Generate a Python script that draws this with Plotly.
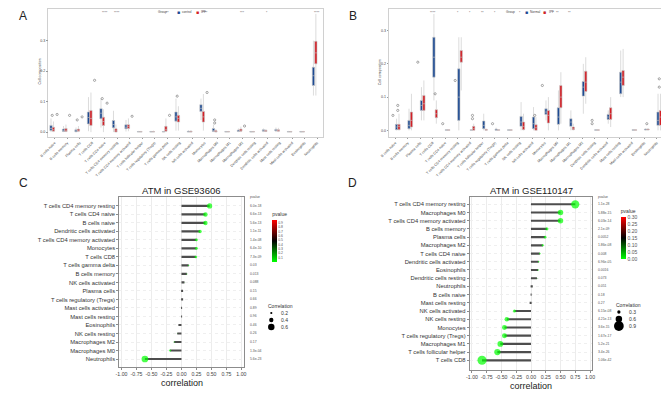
import plotly.graph_objects as go

# The page body has an 8px default margin, so the figure is placed at (8, 8).
OFF = 8
W, H = 669 - OFF, 394 - OFF
def px(x): return (x - OFF) / W
def py(y): return 1 - (y - OFF) / H

FONT = "Liberation Sans, Arial, sans-serif"
BLUE = "#1C4A93"
RED = "#D31F26"

# ---------------- Panels A / B : CIBERSORT fractions ----------------
cells = ["B cells naive", "B cells memory", "Plasma cells", "T cells CD8", "T cells CD4 naive",
         "T cells CD4 memory resting", "T cells CD4 memory activated", "T cells follicular helper",
         "T cells regulatory (Tregs)", "T cells gamma delta", "NK cells resting", "NK cells activated",
         "Monocytes", "Macrophages M0", "Macrophages M1", "Macrophages M2", "Dendritic cells resting",
         "Dendritic cells activated", "Mast cells resting", "Mast cells activated", "Eosinophils", "Neutrophils"]

# Panel A (GSE93606) control
A_ctrl_q1  = [.005, .002, .001, .027, .044, .014, .011, 0, 0, 0, .036, 0, .068, .002, 0, .002, 0, .003, .004, 0, 0, .153]
A_ctrl_med = [.012, .005, .003, .048, .062, .025, .016, .001, .001, .001, .050, .001, .078, .005, .001, .004, .001, .005, .006, .001, .001, .185]
A_ctrl_q3  = [.022, .010, .008, .066, .077, .038, .024, .002, .002, .002, .066, .003, .090, .012, .002, .007, .002, .008, .009, .002, .002, .213]
A_ctrl_lo  = [0, 0, 0, .003, .015, 0, .002, 0, 0, 0, .005, 0, .040, 0, 0, 0, 0, 0, 0, 0, 0, .120]
A_ctrl_hi  = [.045, .020, .015, .115, .110, .070, .040, .004, .004, .004, .110, .006, .110, .025, .004, .012, .004, .012, .015, .004, .004, .300]
# Panel A IPF
A_ipf_q1  = [.003, .002, .003, .022, .022, 0, .012, 0, 0, .003, .033, 0, .033, 0, 0, .003, 0, .002, .003, 0, 0, .224]
A_ipf_med = [.008, .006, .006, .045, .035, .004, .018, .001, .001, .008, .045, .001, .050, .002, .001, .006, .001, .004, .005, .001, .001, .260]
A_ipf_q3  = [.016, .012, .010, .071, .049, .011, .024, .002, .002, .019, .055, .003, .068, .005, .002, .010, .002, .006, .008, .002, .002, .298]
A_ipf_lo  = [0, 0, 0, 0, 0, 0, .003, 0, 0, 0, .005, 0, .005, 0, 0, 0, 0, 0, 0, 0, 0, .120]
A_ipf_hi  = [.035, .025, .020, .130, .075, .025, .045, .004, .005, .045, .085, .006, .125, .010, .004, .018, .004, .010, .014, .004, .004, .388]
A_ctrl_out_cells = ["B cells naive", "Plasma cells", "T cells CD4 naive", "NK cells resting", "Macrophages M0", "Macrophages M0"]
A_ctrl_out_vals  = [0.055, 0.040, 0.110, 0.118, 0.030, 0.040]
A_ipf_out_cells = ["B cells naive", "B cells memory", "Plasma cells", "T cells CD8", "T cells CD4 naive",
                   "T cells CD4 memory activated", "T cells gamma delta", "Monocytes", "Macrophages M2"]
A_ipf_out_vals  = [0.058, 0.055, 0.050, 0.170, 0.095, 0.052, 0.055, 0.130, 0.020]
A_sig_cells = ["T cells CD4 naive", "T cells CD4 memory resting", "T cells gamma delta", "Monocytes",
               "Macrophages M2", "Dendritic cells activated", "Neutrophils"]
A_sig_text = ["****", "****", "**", "****", "***", "*", "****"]

# Panel B (GSE110147) normal
B_ctrl_q1  = [.002, .005, .060, .160, 0, .030, 0, .005, 0, 0, .012, .005, .048, .018, .012, .103, 0, .033, .110, 0, .001, .015]
B_ctrl_med = [.010, .015, .075, .220, .001, .100, .001, .015, .002, .001, .025, .020, .055, .040, .025, .130, .001, .040, .145, .001, .002, .030]
B_ctrl_q3  = [.018, .030, .090, .280, .002, .185, .002, .028, .004, .002, .042, .040, .065, .068, .035, .147, .002, .048, .175, .002, .004, .055]
B_ctrl_lo  = [0, 0, .030, .090, 0, 0, 0, 0, 0, 0, 0, 0, .030, 0, 0, .050, 0, .020, .100, 0, 0, 0]
B_ctrl_hi  = [.035, .065, .130, .350, .004, .280, .004, .050, .008, .003, .085, .070, .090, .120, .060, .200, .004, .060, .240, .003, .006, .110]
# Panel B IPF
B_ipf_q1  = [.002, .010, .060, .038, 0, .205, 0, 0, 0, 0, .002, 0, .022, .068, .002, .117, 0, .033, .135, 0, .001, .015]
B_ipf_med = [.012, .030, .080, .050, .001, .220, .005, .001, .001, .001, .012, .008, .045, .100, .005, .145, .001, .050, .160, .001, .003, .040]
B_ipf_q3  = [.018, .055, .105, .062, .002, .240, .012, .003, .002, .002, .025, .017, .060, .135, .010, .178, .002, .068, .180, .002, .004, .060]
B_ipf_lo  = [0, 0, .030, .020, 0, .120, 0, 0, 0, 0, 0, 0, 0, .020, 0, .080, 0, .010, .100, 0, 0, 0]
B_ipf_hi  = [.050, .110, .150, .090, .003, .280, .020, .005, .004, .003, .050, .040, .100, .175, .020, .220, .004, .100, .245, .003, .006, .110]
B_ctrl_out_cells = ["B cells naive", "Plasma cells", "T cells CD4 naive", "T cells regulatory (Tregs)",
                    "Dendritic cells resting", "Dendritic cells resting", "Monocytes", "T cells CD4 memory resting"]
B_ctrl_out_vals  = [0.045, 0.205, 0.020, 0.020, 0.020, 0.030, 0.135, 0.150]
B_ipf_out_cells = ["B cells naive", "B cells naive", "T cells CD8", "T cells CD4 memory activated",
                   "T cells CD4 memory activated", "NK cells activated", "Eosinophils", "Neutrophils", "Neutrophils"]
B_ipf_out_vals  = [0.060, 0.075, 0.110, 0.035, 0.045, 0.045, 0.020, 0.130, 0.155]
B_sig_cells = ["T cells CD8", "T cells CD4 memory resting", "T cells CD4 memory activated",
               "T cells follicular helper", "T cells regulatory (Tregs)", "NK cells resting",
               "Monocytes", "Macrophages M0", "Macrophages M1"]
B_sig_text = ["****", "*", "*", "**", "*", "*", "*", "**", "**"]

yticks_ab = [0.0, 0.1, 0.2, 0.3]

# ---------------- Panels C / D : ATM correlation lollipops ----------------
C_cells = ["T cells CD4 memory resting", "T cells CD4 naive", "B cells naive", "Dendritic cells activated",
           "T cells CD4 memory activated", "Monocytes", "T cells CD8", "T cells gamma delta", "B cells memory",
           "NK cells activated", "Plasma cells", "T cells regulatory (Tregs)", "Mast cells activated",
           "Mast cells resting", "Eosinophils", "NK cells resting", "Macrophages M2", "Macrophages M0", "Neutrophils"]
C_cor = [0.47, 0.40, 0.40, 0.31, 0.25, 0.25, 0.24, 0.12, 0.09, 0.05, 0.02, 0.015, 0.005, 0.003,
         -0.05, -0.07, -0.12, -0.19, -0.61]
C_p = ["6.0e-18", "6.6e-13", "5.6e-13", "1.1e-11", "1.4e-08", "6.4e-10", "7.3e-09", "0.03", "0.013",
       "0.088", "0.15", "0.66", "0.89", "0.96", "0.46", "0.26", "0.17", "1.3e-04", "5.6e-23"]

D_cells = ["T cells CD4 memory resting", "Macrophages M0", "T cells CD4 memory activated", "B cells memory",
           "Plasma cells", "Macrophages M2", "T cells CD4 naive", "Dendritic cells activated", "Eosinophils",
           "Dendritic cells resting", "Neutrophils", "B cells naive", "Mast cells resting", "NK cells activated",
           "NK cells resting", "Monocytes", "T cells regulatory (Tregs)", "Macrophages M1",
           "T cells follicular helper", "T cells CD8"]
D_cor = [0.75, 0.50, 0.50, 0.27, 0.24, 0.20, 0.15, 0.13, 0.12, 0.10, 0.03, 0.01, -0.01,
         -0.28, -0.41, -0.45, -0.45, -0.52, -0.57, -0.83]
D_p = ["1.1e-28", "5.88e-15", "6.03e-14", "2.1e-09", "0.0052", "1.86e-08", "0.008", "6.96e-05", "0.0016",
       "0.073", "0.051", "0.18", "0.27", "6.15e-08", "4.21e-13", "3.6e-15", "1.67e-17", "5.2e-21",
       "3.4e-26", "1.06e-42"]

corr_ticks = [-1.0, -0.75, -0.5, -0.25, 0.0, 0.25, 0.5, 0.75, 1.0]
C_size_legend = [0.2, 0.4, 0.6]
D_size_legend = [0.3, 0.6, 0.9]
C_cbar_ticks = [0.1, 0.2, 0.3, 0.4, 0.5, 0.6, 0.7, 0.8, 0.9]
D_cbar_ticks = [0.0, 0.05, 0.10, 0.15, 0.20, 0.25, 0.30]

SIZE_K = 11.0  # marker diameter (px) per unit |correlation|

fig = go.Figure()


def add_boxes(xa, ya, q1, med, q3, lo, hi, name, color):
    fig.add_trace(go.Box(
        x=cells, q1=q1, median=med, q3=q3, lowerfence=lo, upperfence=hi, name=name,
        fillcolor=color, line=dict(color="#c4c4c4", width=0.6), marker=dict(color=color),
        whiskerwidth=0, boxpoints=False, xaxis=xa, yaxis=ya, showlegend=False))


def add_out(xa, ya, xs, ys):
    fig.add_trace(go.Scatter(
        x=xs, y=ys, mode="markers",
        marker=dict(size=2.2, color="rgba(0,0,0,0)", line=dict(color="#555", width=0.5)),
        xaxis=xa, yaxis=ya, showlegend=False, hoverinfo="skip"))


add_boxes("x", "y", A_ctrl_q1, A_ctrl_med, A_ctrl_q3, A_ctrl_lo, A_ctrl_hi, "control", BLUE)
add_boxes("x", "y", A_ipf_q1, A_ipf_med, A_ipf_q3, A_ipf_lo, A_ipf_hi, "IPF", RED)
add_out("x", "y", A_ctrl_out_cells, A_ctrl_out_vals)
add_out("x", "y", A_ipf_out_cells, A_ipf_out_vals)

add_boxes("x2", "y2", B_ctrl_q1, B_ctrl_med, B_ctrl_q3, B_ctrl_lo, B_ctrl_hi, "Normal", BLUE)
add_boxes("x2", "y2", B_ipf_q1, B_ipf_med, B_ipf_q3, B_ipf_lo, B_ipf_hi, "IPF", RED)
add_out("x2", "y2", B_ctrl_out_cells, B_ctrl_out_vals)
add_out("x2", "y2", B_ipf_out_cells, B_ipf_out_vals)


def add_lollipop(xa, ya, names, cor, pstr, cax):
    pv = [float(s) for s in pstr]
    fig.add_trace(go.Bar(x=cor, y=names, orientation="h", width=0.26,
                         marker=dict(color="#4d4d4d", line=dict(width=0)),
                         xaxis=xa, yaxis=ya, showlegend=False, hoverinfo="skip"))
    fig.add_trace(go.Scatter(x=cor, y=names, mode="markers",
                             marker=dict(size=[SIZE_K * abs(c) for c in cor], color=pv,
                                         coloraxis=cax, line=dict(width=0)),
                             xaxis=xa, yaxis=ya, showlegend=False))


add_lollipop("x3", "y3", C_cells, C_cor, C_p, "coloraxis")
add_lollipop("x4", "y4", D_cells, D_cor, D_p, "coloraxis2")

ab_x = dict(type="category", categoryarray=cells, tickangle=-45,
            tickfont=dict(size=3.6, color="#444"), showline=True, mirror=True, linecolor="#d0d0d0",
            linewidth=0.8, ticks="outside", ticklen=1.5, tickcolor="#999", showgrid=False)
ab_y = dict(tickvals=yticks_ab, ticktext=["%.1f" % v for v in yticks_ab],
            tickfont=dict(size=3.6, color="#444"), showline=True, mirror=True, linecolor="#d0d0d0",
            linewidth=0.8, ticks="outside", ticklen=1.5, tickcolor="#999", showgrid=False, zeroline=False)

cd_x = dict(range=[-1.04, 1.04], tickvals=corr_ticks, ticktext=["%.2f" % v for v in corr_ticks],
            tickfont=dict(size=5.2, color="#444"), showline=True, mirror=True, linecolor="#8c8c8c",
            linewidth=0.8, ticks="outside", ticklen=2, tickcolor="#8c8c8c", showgrid=True,
            gridcolor="#ececec", gridwidth=0.6, zeroline=False)
cd_y = dict(type="category", tickfont=dict(size=5.8, color="#333"), showline=True, mirror=True,
            linecolor="#8c8c8c", linewidth=0.8, ticks="outside", ticklen=2, tickcolor="#8c8c8c",
            showgrid=True, gridcolor="#efefef", gridwidth=0.6, griddash="dot")

cscale = [[0, "#00FF00"], [0.5, "#000000"], [1, "#FF0000"]]

fig.update_layout(
    width=W, height=H, margin=dict(l=0, r=0, t=0, b=0),
    paper_bgcolor="white", plot_bgcolor="white",
    font=dict(family=FONT, color="#222"),
    boxmode="group", boxgap=0.22, boxgroupgap=0.05,
    scattermode="group", scattergap=0.22,
    barmode="overlay",
    xaxis=dict(domain=[px(40), px(320)], anchor="y", **ab_x),
    yaxis=dict(domain=[py(137), py(9)], anchor="x", range=[-0.016, 0.404], **ab_y),
    xaxis2=dict(domain=[px(387), px(666)], anchor="y2", **ab_x),
    yaxis2=dict(domain=[py(137), py(9)], anchor="x2", range=[-0.02, 0.365], **ab_y),
    xaxis3=dict(domain=[px(112), px(239)], anchor="y3", **cd_x),
    yaxis3=dict(domain=[py(367), py(197)], anchor="x3", categoryarray=C_cells[::-1],
                range=[-0.94, len(C_cells) + 0.05], **cd_y),
    xaxis4=dict(domain=[px(469), px(594)], anchor="y4", **cd_x),
    yaxis4=dict(domain=[py(370), py(197)], anchor="x4", categoryarray=D_cells[::-1],
                range=[-1.18, len(D_cells) - 0.11], **cd_y),
    coloraxis=dict(colorscale=cscale, cmin=0, cmax=max(float(s) for s in C_p),
                   colorbar=dict(x=px(268), xanchor="left", y=py(209), yanchor="top",
                                 xpad=0, ypad=0, len=53, lenmode="pixels", thickness=5, outlinewidth=0,
                                 tickvals=C_cbar_ticks, tickfont=dict(size=3.4, color="#555"), ticks="",
                                 title=dict(text="pvalue", side="top", font=dict(size=5, color="#333")))),
    coloraxis2=dict(colorscale=cscale, cmin=0, cmax=0.3,
                    colorbar=dict(x=px(623), xanchor="left", y=py(206), yanchor="top",
                                  xpad=0, ypad=0, len=53, lenmode="pixels", thickness=5, outlinewidth=0,
                                  tickvals=D_cbar_ticks, ticktext=["%.2f" % v for v in D_cbar_ticks],
                                  tickfont=dict(size=5, color="#555"), ticks="",
                                  title=dict(text="pvalue", side="top", font=dict(size=5, color="#333")))),
)

ann = []
def txt(x, y, s, size, color="#222", xanchor="center", **kw):
    d = dict(x=x, y=y, xref="paper", yref="paper", text=s, showarrow=False,
             xanchor=xanchor, yanchor="middle",
             font=dict(size=size, color=color, family=FONT))
    d.update(kw)
    ann.append(d)

# panel letters (the top-left 8px strip lies outside the figure)
txt(px(8), py(16), "A", 12, xanchor="left")
txt(px(350), py(16), "B", 12)
txt(px(8), py(183), "C", 12, xanchor="left")
txt(px(350), py(183), "D", 12)

# y-axis titles A/B
txt(px(31), py(72), "Cell composition", 3.6, "#444", textangle=-90)
txt(px(378), py(72), "Cell composition", 3.6, "#444", textangle=-90)

# group legends
LEG_Y = 11.5
def group_legend(x0, second):
    txt(px(x0), py(LEG_Y), "Group", 3.2, "#444", xanchor="left")
    txt(px(x0 + 19), py(LEG_Y), "■", 5, BLUE, xanchor="left")
    txt(px(x0 + 24.5), py(LEG_Y), second, 3.2, "#444", xanchor="left")
    txt(px(x0 + 38), py(LEG_Y), "■", 5, RED, xanchor="left")
    txt(px(x0 + 43.5), py(LEG_Y), "IPF", 3.2, "#444", xanchor="left")

group_legend(150, "control")
group_legend(504, "Normal")

# significance marks
for c, s in zip(A_sig_cells, A_sig_text):
    ann.append(dict(x=c, y=0.39, xref="x", yref="y", text=s, showarrow=False,
                    font=dict(size=3.4, color="#666", family=FONT)))
for c, s in zip(B_sig_cells, B_sig_text):
    ann.append(dict(x=c, y=0.352, xref="x2", yref="y2", text=s, showarrow=False,
                    font=dict(size=3.4, color="#666", family=FONT)))

# titles and axis titles C/D
txt(px(176), py(190), "ATM in GSE93606", 9.5)
txt(px(532), py(190), "ATM in GSE110147", 9.5)
txt(px(176), py(383), "correlation", 9)
txt(px(532), py(386), "correlation", 9)

# p-value columns
for xa, ya, names, ps in (("x3", "y3", C_cells, C_p), ("x4", "y4", D_cells, D_p)):
    for n, s in zip(names, ps):
        ann.append(dict(x=1.03, y=n, xref=xa + " domain", yref=ya, text=s, showarrow=False,
                        xanchor="left", yanchor="middle", font=dict(size=3.4, color="#555", family=FONT)))
    ann.append(dict(x=1.03, y=1.0, xref=xa + " domain", yref=ya + " domain", text="pvalue",
                    showarrow=False, xanchor="left", yanchor="middle",
                    font=dict(size=3.4, color="#555", family=FONT)))

# size legends ("Correlation")
shapes = []
def size_legend(x0, y0, vals):
    txt(px(x0), py(y0), "Correlation", 5, "#333", xanchor="left")
    for i, v in enumerate(vals):
        yy = y0 + 7 + i * 7
        r = SIZE_K * v / 2
        cx = x0 + 5
        shapes.append(dict(type="circle", xref="paper", yref="paper",
                           x0=px(cx - r), x1=px(cx + r), y0=py(yy + r), y1=py(yy - r),
                           fillcolor="black", line=dict(width=0)))
        txt(px(x0 + 13), py(yy), "%.1f" % v, 5, "#333", xanchor="left")

size_legend(262, 306, C_size_legend)
size_legend(616, 305, D_size_legend)

fig.update_layout(annotations=ann, shapes=shapes)
fig.write_html("out.html")
